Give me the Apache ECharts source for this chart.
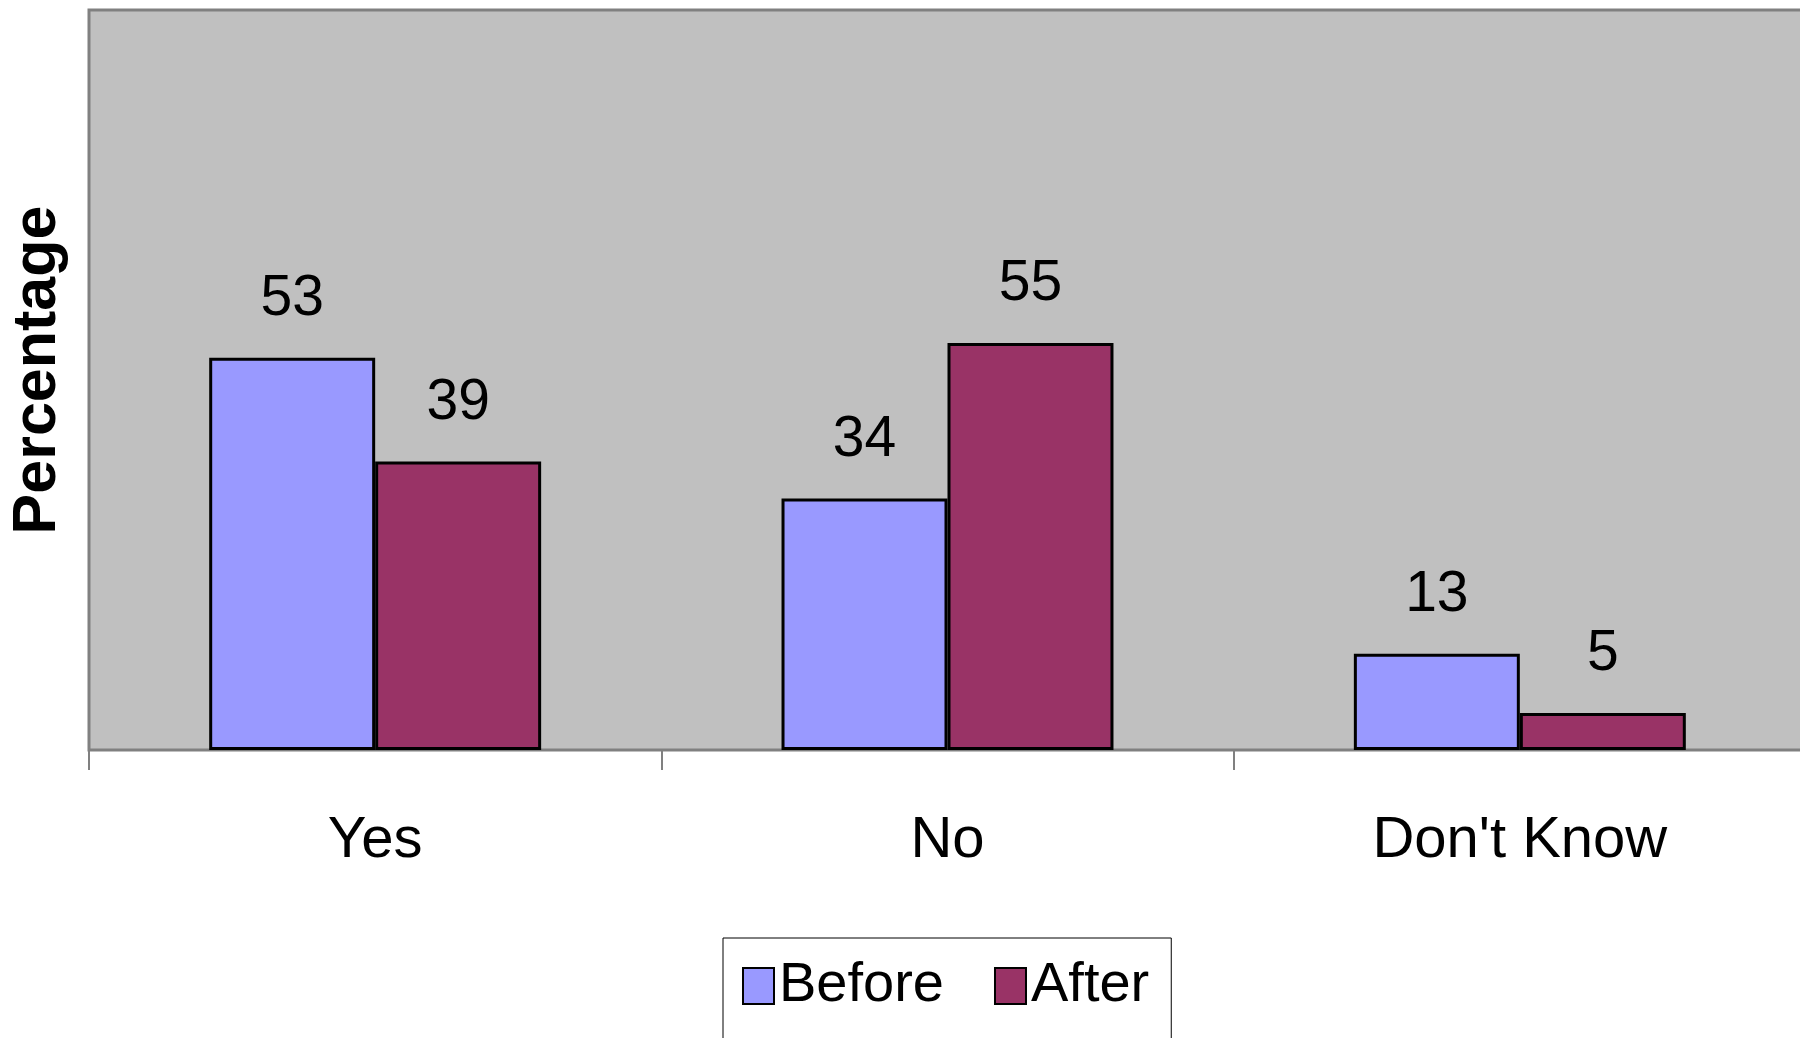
<!DOCTYPE html>
<html>
<head>
<meta charset="utf-8">
<script src="https://cdn.jsdelivr.net/npm/echarts@6/dist/echarts.min.js"></script>
<style>html,body{margin:0;padding:0;background:#fff}#c{width:1800px;height:1038px}</style>
</head>
<body>
<div id="c"></div>
<script>
const categories = ["Yes", "No", "Don't Know"];
const beforeValues = [53, 34, 13];
const afterValues = [39, 55, 5];
const seriesNames = ["Before", "After"];
const yTitle = "Percentage";

const FONT = "'Liberation Sans', Arial, sans-serif";
const chart = echarts.init(document.getElementById('c'), null, {renderer: 'canvas'});
const labelCfg = {show: true, position: 'top', distance: 30, color: '#000', fontSize: 57, fontFamily: FONT};
chart.setOption({
  animation: false,
  grid: {left: 89, top: 10, right: -6, bottom: 288, show: true, backgroundColor: '#C0C0C0', borderColor: '#808080', borderWidth: 3, containLabel: false, outerBoundsMode: 'none'},
  legend: {
    data: seriesNames, left: 723, top: 938, orient: 'horizontal', selectedMode: false, icon: 'rect',
    backgroundColor: '#fff', borderColor: '#000', borderWidth: 1,
    padding: [20, 22, 80, 19], itemGap: 50, itemWidth: 31, itemHeight: 36,
    textStyle: {fontSize: 56, color: '#000', fontFamily: FONT}
  },
  xAxis: {
    type: 'category', data: categories,
    axisLine: {show: true, lineStyle: {color: '#808080', width: 2}},
    axisTick: {show: true, length: 20, alignWithLabel: false, lineStyle: {color: '#808080', width: 2}},
    axisLabel: {fontSize: 58, color: '#000', margin: 62, fontFamily: FONT, interval: 0},
    splitLine: {show: false}
  },
  yAxis: {
    type: 'value', min: 0, max: 100,
    name: yTitle, nameLocation: 'middle', nameGap: 20, nameRotate: 90,
    nameTextStyle: {fontSize: 61, fontWeight: 'bold', color: '#000', fontFamily: FONT, padding: [0, 0, 0, 20]},
    axisLine: {show: false}, axisTick: {show: false}, axisLabel: {show: false}, splitLine: {show: false}
  },
  series: [
    {name: seriesNames[0], type: 'bar', data: beforeValues, barGap: '0%', barCategoryGap: '42%',
     itemStyle: {color: '#9999FF', borderColor: '#000', borderWidth: 3}, label: labelCfg},
    {name: seriesNames[1], type: 'bar', data: afterValues, barGap: '0%', barCategoryGap: '42%',
     itemStyle: {color: '#993366', borderColor: '#000', borderWidth: 3}, label: labelCfg}
  ]
});
</script>
</body>
</html>
